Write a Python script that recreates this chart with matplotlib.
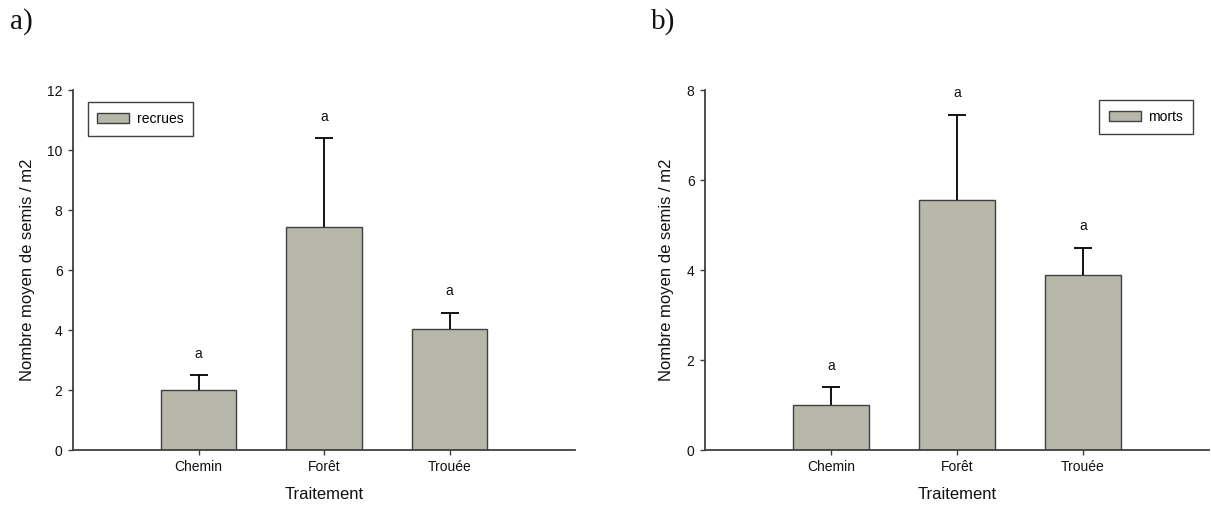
import matplotlib
matplotlib.use("Agg")
import matplotlib.pyplot as plt
import numpy as np

plt.rcParams['font.family'] = ['Liberation Sans', 'DejaVu Sans']

categories = ["Chemin", "Forêt", "Trouée"]
recrues_mean = [2.0, 7.45, 4.03]
recrues_err = [0.5, 2.95, 0.55]
morts_mean = [1.0, 5.55, 3.90]
morts_err = [0.39, 1.90, 0.60]
letters_a = ["a", "a", "a"]
letters_b = ["a", "a", "a"]

bar_color = "#b8b8aa"
edge_color = "#404040"

fig = plt.figure(figsize=(12.11, 5.11), dpi=100)
ax1 = fig.add_axes([73/1211, 61/511, 502/1211, 360/511])
ax2 = fig.add_axes([705/1211, 61/511, 504/1211, 360/511])


def draw(ax, means, errs, letters, label, ymax, yticks, legend_loc, anchor):
    x = np.arange(len(categories))
    ax.bar(x, means, width=0.6, color=bar_color, edgecolor=edge_color,
           linewidth=1.0, label=label, zorder=2)
    eb = ax.errorbar(x, means, yerr=[np.zeros(len(errs)), errs], fmt='none',
                     ecolor='black', elinewidth=1.3, capsize=6.5, capthick=1.3,
                     zorder=3)
    # hide the (zero-length) lower caps
    for cl in eb[1]:
        yd = np.asarray(cl.get_ydata(), dtype=float)
        if np.allclose(yd, np.asarray(means, dtype=float)):
            cl.set_visible(False)
    for xi, m, e, t in zip(x, means, errs, letters):
        ax.annotate(t, (xi, m + e), xytext=(0, 12.5), textcoords='offset points',
                    ha='center', va='baseline', fontsize=10, color='#111111')
    ax.set_xlim(-1, 3)
    ax.set_ylim(0, ymax)
    ax.set_yticks(yticks)
    ax.set_xticks(x)
    ax.set_xticklabels(categories)
    for s in ['top', 'right']:
        ax.spines[s].set_visible(False)
    for s in ['left', 'bottom']:
        ax.spines[s].set_color(edge_color)
        ax.spines[s].set_linewidth(1.3)
    ax.tick_params(axis='both', direction='out', length=3.5, width=1.0,
                   color=edge_color, labelsize=10, pad=4, labelcolor='#111111')
    ax.set_ylabel("Nombre moyen de semis / m2", fontsize=12, labelpad=9, color='#111111')
    ax.set_xlabel("Traitement", fontsize=12, labelpad=9, color='#111111')
    leg = ax.legend(loc=legend_loc, bbox_to_anchor=anchor, fontsize=10,
                    handlelength=2.3, handleheight=0.72, handletextpad=0.55,
                    borderpad=0.7, borderaxespad=0, fancybox=False,
                    framealpha=1, edgecolor=edge_color)
    leg.get_frame().set_linewidth(1.0)


draw(ax1, recrues_mean, recrues_err, letters_a, "recrues", 12,
     [0, 2, 4, 6, 8, 10, 12], 'upper left', (0.029, 0.966))
draw(ax2, morts_mean, morts_err, letters_b, "morts", 8,
     [0, 2, 4, 6, 8], 'upper right', (0.968, 0.972))

fig.text(10/1211, 1 - 22/511, "a)", fontsize=21, family='Liberation Serif',
         ha='left', va='center', color='#111111')
fig.text(651/1211, 1 - 22/511, "b)", fontsize=21, family='Liberation Serif',
         ha='left', va='center', color='#111111')

fig.savefig("out.png", dpi=100)
